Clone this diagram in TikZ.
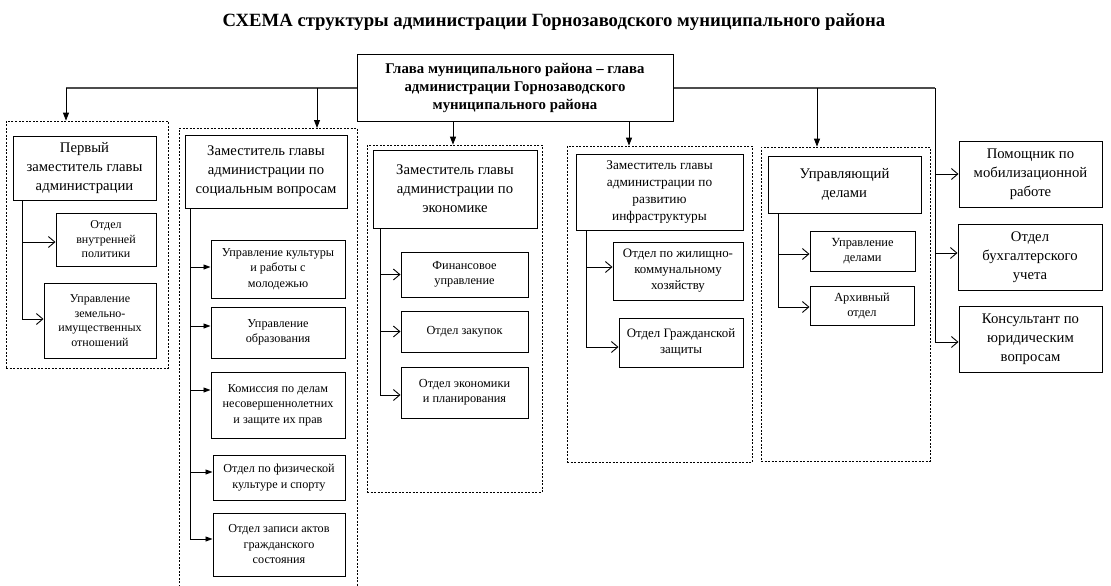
\documentclass[tikz,border=0pt]{standalone}
\usepackage{fontspec}
\setmainfont{Liberation Serif}
\usepackage{tikz}
\usetikzlibrary{arrows.meta}
\usetikzlibrary{positioning,calc}

\begin{document}
\begin{tikzpicture}[x=1pt, y=-1pt, line width=0.9pt,
    box/.style={draw, line width=1pt, align=center, inner sep=1pt},
    bigbox/.style={box, font=\fontsize{14.7}{19}\selectfont},
    smallbox/.style={box, font=\fontsize{12.3}{15}\selectfont},
    dashbox/.style={draw, line width=0.7pt, dash pattern=on 2pt off 1.5pt},
    bus/.style={draw=black!70, line width=1.2pt},
    mainarr/.style={-{Triangle[length=8pt,width=6pt]}},
    fillarr/.style={-{Triangle[length=7pt,width=5pt]}},
    openarr/.style={-{Straight Barb[length=6.5pt,width=11pt]}}]
    \useasboundingbox (0,0) rectangle (1111,586);

    \node[font=\bfseries\fontsize{18.7}{22}\selectfont] (title) at (554,22)
      {СХЕМА структуры администрации Горнозаводского муниципального района};
    \node[box, font=\bfseries\fontsize{14.8}{18}\selectfont, minimum width=316pt, minimum height=67pt] (glava) at (515,88)
      {Глава муниципального района – глава\\администрации Горнозаводского\\муниципального района};

    % dashed groups
    \node[dashbox, minimum width=162pt, minimum height=247pt] (grp1) at (87,244.5) {};
    \draw[dashbox] (179,590) |- (357,128) -- (357,590);
    \coordinate (grp2top) at (317,128);
    \node[dashbox, minimum width=175pt, minimum height=347pt] (grp3) at (454.5,318.5) {};
    \node[dashbox, minimum width=185pt, minimum height=316pt] (grp4) at (659.5,304) {};
    \node[dashbox, minimum width=169pt, minimum height=314pt] (grp5) at (845.5,304) {};

    % first deputy
    \node[bigbox, minimum width=143pt, minimum height=64pt] (perv) at (84.5,168) {Первый\\заместитель главы\\администрации};
    \node[smallbox, font=\fontsize{12}{14.5}\selectfont, minimum width=100pt, minimum height=53pt] (vnutr) at (106,239.5) {Отдел\\внутренней\\политики};
    \node[smallbox, font=\fontsize{12}{14.5}\selectfont, minimum width=112pt, minimum height=75pt] (zemel) at (100,320.5) {Управление\\земельно-\\имущественных\\отношений};

    % social
    \node[bigbox, minimum width=162pt, minimum height=73pt] (zamsoc) at (266,171.5) {Заместитель главы\\администрации по\\социальным вопросам};
    \begin{scope}[every node/.style={smallbox, font=\fontsize{12.2}{15.5}\selectfont}]
      \node[minimum width=134pt, minimum height=58pt] (kult) at (278,269) {Управление культуры\\и работы с\\молодежью};
      \node[minimum width=134pt, minimum height=51pt] (obraz) at (278,332.5) {Управление\\образования};
      \node[minimum width=134pt, minimum height=66pt] (komis) at (278,405) {Комиссия по делам\\несовершеннолетних\\и защите их прав};
      \node[minimum width=132pt, minimum height=45pt] (sport) at (279,477.5) {Отдел по физической\\культуре и спорту};
      \node[minimum width=132pt, minimum height=63pt] (zags) at (279,544.5) {Отдел записи актов\\гражданского\\состояния};
    \end{scope}

    % economy
    \node[bigbox, minimum width=164pt, minimum height=78pt] (zamek) at (455,189) {Заместитель главы\\администрации по\\экономике};
    \node[smallbox, minimum width=127pt, minimum height=45pt] (fin) at (464.5,274.5) {Финансовое\\управление};
    \node[smallbox, minimum width=127pt, minimum height=41pt] (zak) at (464.5,331.5) {Отдел закупок};
    \node[smallbox, minimum width=127pt, minimum height=51pt] (plan) at (464.5,392.5) {Отдел экономики\\и планирования};

    % infrastructure
    \node[box, font=\fontsize{13.3}{17}\selectfont, minimum width=167pt, minimum height=76pt] (zaminf) at (659.5,192)
      {Заместитель главы\\администрации по\\развитию\\инфраструктуры};
    \node[smallbox, font=\fontsize{12.9}{16}\selectfont, minimum width=130pt, minimum height=58pt] (zkh) at (678,271) {Отдел по жилищно-\\коммунальному\\хозяйству};
    \node[smallbox, font=\fontsize{12.9}{16}\selectfont, minimum width=124pt, minimum height=49pt] (gz) at (681,342.5) {Отдел Гражданской\\защиты};

    % manager
    \node[bigbox, minimum width=153pt, minimum height=57pt] (upr) at (844.5,184.5) {Управляющий\\делами};
    \node[smallbox, font=\fontsize{12.4}{15}\selectfont, minimum width=105pt, minimum height=40pt] (uprdel) at (862.5,251) {Управление\\делами};
    \node[smallbox, font=\fontsize{12.4}{15}\selectfont, minimum width=104pt, minimum height=39pt] (arh) at (862,305.5) {Архивный\\отдел};

    % right column
    \node[bigbox, minimum width=143pt, minimum height=66pt] (pom) at (1030.5,174) {Помощник по\\мобилизационной\\работе};
    \node[bigbox, minimum width=144pt, minimum height=66pt] (buh) at (1030,257) {Отдел\\бухгалтерского\\учета};
    \node[bigbox, minimum width=143pt, minimum height=66pt] (kons) at (1030.5,339) {Консультант по\\юридическим\\вопросам};

    % bus and main arrows
    \coordinate (b1) at (66,88);
    \coordinate (b2) at (317,88);
    \coordinate (b5) at (817,88);
    \coordinate (b6) at (935,88);
    \draw[bus] (glava.west) -- (b1);
    \draw[bus] (glava.east) -- (b6);
    \draw[mainarr] (b1) -- (b1 |- grp1.north);
    \draw[mainarr] (b2) -- (grp2top);
    \draw[mainarr] (glava.south -| 453,0) -- (grp3.north -| 453,0);
    \draw[mainarr] (glava.south -| 629,0) -- (grp4.north -| 629,0);
    \draw[mainarr] (b5) -- (b5 |- grp5.north);
    \draw[openarr] (b6) |- ([yshift=-3pt]kons.west);
    \draw[openarr] (b6 |- pom.west) -- (pom.west);
    \draw[openarr] ([yshift=4pt]b6 |- buh.west) -- ([yshift=4pt]buh.west);

    % spines
    \coordinate (sp1) at (22,0);
    \draw[openarr] (perv.south -| sp1) |- ([yshift=1.5pt]zemel.west);
    \draw[openarr] ([yshift=-2.5pt]sp1 |- vnutr.west) -- ([yshift=-2.5pt]vnutr.west);

    \coordinate (sp2) at (190,0);
    \draw[fillarr] (zamsoc.south -| sp2) |- ([yshift=5.5pt]zags.west);
    \draw[fillarr] ([yshift=2pt]sp2 |- kult.west) -- ([yshift=2pt]kult.west);
    \draw[fillarr] ([yshift=6.5pt]sp2 |- obraz.west) -- ([yshift=6.5pt]obraz.west);
    \draw[fillarr] ([yshift=15pt]sp2 |- komis.west) -- ([yshift=15pt]komis.west);
    \draw[fillarr] ([yshift=5.5pt]sp2 |- sport.west) -- ([yshift=5.5pt]sport.west);

    \coordinate (sp3) at (380,0);
    \draw[openarr] (zamek.south -| sp3) |- ([yshift=-2.5pt]plan.west);
    \draw[openarr] (sp3 |- fin.west) -- (fin.west);
    \draw[openarr] (sp3 |- zak.west) -- (zak.west);

    \coordinate (sp4) at (586,0);
    \draw[openarr] (zaminf.south -| sp4) |- ([yshift=-4.5pt]gz.west);
    \draw[openarr] ([yshift=4pt]sp4 |- zkh.west) -- ([yshift=4pt]zkh.west);

    \coordinate (sp5) at (778,0);
    \draw[openarr] (upr.south -| sp5) |- ([yshift=-1.5pt]arh.west);
    \draw[openarr] ([yshift=-3pt]sp5 |- uprdel.west) -- ([yshift=-3pt]uprdel.west);
\end{tikzpicture}
\end{document}
